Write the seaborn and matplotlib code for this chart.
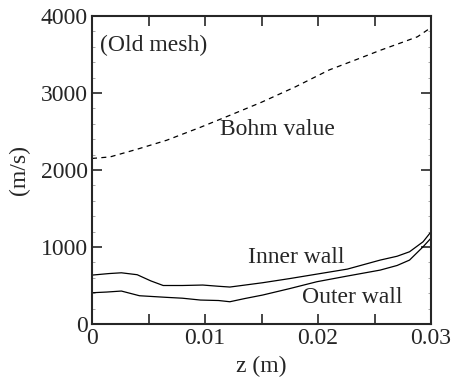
import numpy as np
import pandas as pd
import matplotlib
matplotlib.use('Agg')
import matplotlib.pyplot as plt
import seaborn as sns
from matplotlib.ticker import MultipleLocator
from matplotlib import font_manager

# datos
z_bohm = [0.0, 0.0016, 0.0040, 0.0066, 0.0096, 0.0122, 0.0150, 0.0180, 0.0210, 0.0235, 0.0255, 0.0275, 0.0288, 0.0300]
v_bohm = [2150, 2170, 2270, 2386, 2555, 2710, 2880, 3080, 3300, 3440, 3554, 3660, 3730, 3850]

z_inner = [0.0, 0.0015, 0.0026, 0.0040, 0.0052, 0.0063, 0.0080, 0.0098, 0.0112, 0.0122, 0.0135, 0.0151, 0.0175, 0.0199, 0.0226, 0.0255, 0.0270, 0.0281, 0.0293, 0.0300]
v_inner = [635, 655, 665, 640, 560, 500, 500, 506, 490, 480, 505, 536, 590, 648, 713, 830, 880, 938, 1068, 1197]

z_outer = [0.0, 0.0013, 0.0026, 0.0042, 0.0066, 0.0080, 0.0096, 0.0112, 0.0122, 0.0135, 0.0151, 0.0175, 0.0199, 0.0226, 0.0255, 0.0270, 0.0281, 0.0293, 0.0300]
v_outer = [406, 415, 428, 367, 346, 335, 311, 305, 289, 330, 376, 460, 549, 623, 700, 760, 830, 1003, 1115]

df = pd.concat([
    pd.DataFrame({'z': z_bohm, 'v': v_bohm, 'curva': 'Bohm value'}),
    pd.DataFrame({'z': z_inner, 'v': v_inner, 'curva': 'Inner wall'}),
    pd.DataFrame({'z': z_outer, 'v': v_outer, 'curva': 'Outer wall'}),
])

sns.set_style('ticks')
nombres = sorted({f.name for f in font_manager.fontManager.ttflist})
serif = 'Liberation Serif' if 'Liberation Serif' in nombres else 'DejaVu Serif'
plt.rcParams['font.family'] = [serif, 'DejaVu Serif']

fig, ax = plt.subplots(figsize=(4.53, 3.87), dpi=100)
fig.subplots_adjust(left=92/453, right=431/453, top=1-16/387, bottom=1-324/387)

sns.lineplot(data=df, x='z', y='v', hue='curva', style='curva',
             palette=['black', 'black', 'black'],
             dashes={'Bohm value': (4, 3.5), 'Inner wall': '', 'Outer wall': ''},
             linewidth=0.9, ax=ax, legend=False, estimator=None, sort=False)

ax.set_xlim(0, 0.03)
ax.set_ylim(0, 4000)
ax.yaxis.set_minor_locator(MultipleLocator(200))
ax.set_xticks([0, 0.005, 0.01, 0.015, 0.02, 0.025, 0.03])
ax.set_xticklabels(['0', '', '0.01', '', '0.02', '', '0.03'])
ax.set_yticks([0, 1000, 2000, 3000, 4000])
ax.set_yticklabels(['0', '1000', '2000', '3000', '4000'])

ax.tick_params(which='major', direction='in', length=7.5, width=1.2, top=True, right=True,
               labelsize=17, pad=3)
ax.tick_params(which='minor', direction='in', length=2, width=0.6, color='#999999',
               left=True, right=True)
for s in ax.spines.values():
    s.set_linewidth(1.5)

ax.set_xlabel('z (m)', fontsize=17, labelpad=5)
ax.set_ylabel('(m/s)', fontsize=17, labelpad=8)

ax.text(0.0007, 3620, '(Old mesh)', fontsize=17, ha='left', va='center')
ax.text(0.0164, 2520, 'Bohm value', fontsize=17, ha='center', va='center')
ax.text(0.0181, 870, 'Inner wall', fontsize=17, ha='center', va='center')
ax.text(0.0230, 350, 'Outer wall', fontsize=17, ha='center', va='center')

fig.savefig('out.png', dpi=100)
